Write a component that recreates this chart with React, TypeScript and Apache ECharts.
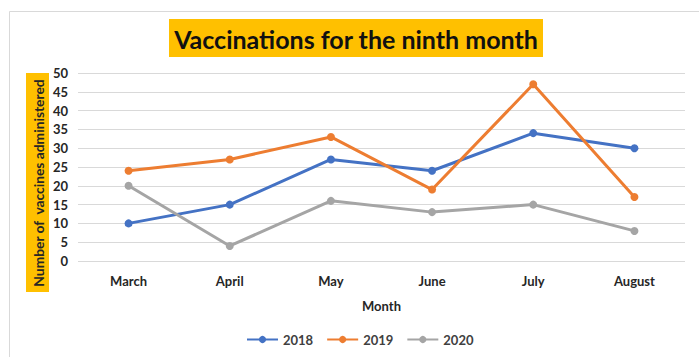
import React, { useEffect, useRef } from "react";
import * as echarts from "echarts";

const months = ["March", "April", "May", "June", "July", "August"];
const s2018 = [10, 15, 27, 24, 34, 30];
const s2019 = [24, 27, 33, 19, 47, 17];
const s2020 = [20, 4, 16, 13, 15, 8];
const seriesNames = ["2018", "2019", "2020"];
const colors = ["#4472C4", "#ED7D31", "#A5A5A5"];

const FONT = "Lato";

export default function App() {
  const ref = useRef<HTMLDivElement>(null);
  useEffect(() => {
    if (!ref.current) return;
    const chart = echarts.init(ref.current, undefined, { renderer: "svg" });
    const data = [s2018, s2019, s2020];
    chart.setOption({
      animation: false,
      backgroundColor: "#ffffff",
      textStyle: { fontFamily: FONT },
      grid: { left: 78, right: 14, top: 73, bottom: 96, containLabel: false },
      legend: {
        data: seriesNames,
        bottom: 6,
        left: 241,
        itemWidth: 31,
        itemHeight: 9,
        itemGap: 13,
        textStyle: { fontFamily: FONT, fontWeight: "bold", fontSize: 13, color: "#404040" },
      },
      xAxis: {
        type: "category",
        data: months,
        boundaryGap: true,
        axisLine: { show: false },
        axisTick: { show: false },
        axisLabel: { fontFamily: FONT, fontWeight: "bold", fontSize: 13, color: "#262626", margin: 13 },
        name: "Month",
        nameLocation: "middle",
        nameGap: 38,
        nameTextStyle: { fontFamily: FONT, fontWeight: "bold", fontSize: 13, color: "#262626" },
      },
      yAxis: {
        type: "value",
        min: 0,
        max: 50,
        interval: 5,
        axisLine: { show: false },
        axisTick: { show: false },
        splitLine: { lineStyle: { color: "#d9d9d9", width: 1 } },
        axisLabel: { fontFamily: FONT, fontWeight: "bold", fontSize: 13, color: "#262626", margin: 10 },
      },
      graphic: [
        {
          type: "rect",
          shape: { x: 9.5, y: 11.5, width: 720, height: 400 },
          style: { fill: "none", stroke: "#d9d9d9", lineWidth: 1 },
          silent: true,
        },
        {
          type: "rect",
          shape: { x: 169, y: 19, width: 374, height: 38 },
          style: { fill: "#FFC000" },
          silent: true,
        },
        {
          type: "text",
          x: 356,
          y: 39,
          style: {
            text: "Vaccinations for the ninth month",
            fontFamily: FONT,
            fontWeight: "bold",
            fontSize: 25,
            fill: "#111111",
            align: "center",
            verticalAlign: "middle",
          },
        },
        {
          type: "rect",
          shape: { x: 26, y: 73, width: 23, height: 219 },
          style: { fill: "#FFC000" },
          silent: true,
        },
        {
          type: "text",
          x: 38,
          y: 183,
          rotation: Math.PI / 2,
          style: {
            text: "Number of  vaccines administered",
            fontFamily: FONT,
            fontWeight: "bold",
            fontSize: 13.8,
            fill: "#262626",
            align: "center",
            verticalAlign: "middle",
          },
        },
      ],
      series: data.map((d, i) => ({
        name: seriesNames[i],
        type: "line",
        data: d,
        symbol: "circle",
        symbolSize: 8,
        lineStyle: { width: 3, color: colors[i] },
        itemStyle: { color: colors[i] },
        color: colors[i],
      })),
    });
    return () => chart.dispose();
  }, []);
  return <div ref={ref} style={{ position: "fixed", left: 0, top: 0, width: 699, height: 357 }} />;
}
